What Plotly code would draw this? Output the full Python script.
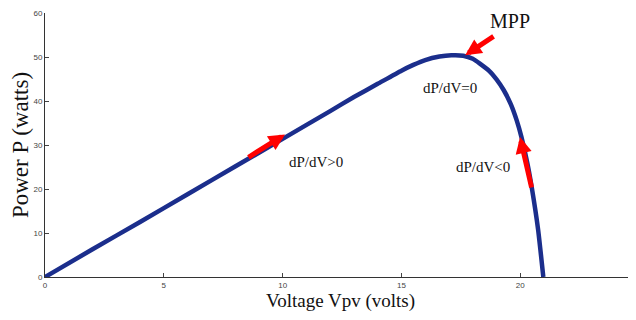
import plotly.graph_objects as go

voltage = [0, 2, 4, 6, 8, 10, 12, 13, 14, 15, 15.5, 16, 16.6, 17.1, 17.6, 18,
           18.3, 18.7, 19, 19.3, 19.6, 19.85, 20.05, 20.3, 20.5, 20.75, 20.97]
power = [0, 6.3, 12.5, 18.8, 25.1, 31.4, 37.7, 40.9, 43.9, 46.9, 48.2, 49.3,
         50.1, 50.4, 50.3, 49.6, 48.5, 46.8, 44.9, 42.5, 39.3, 35.6, 31.8,
         25.8, 19.8, 10.8, 0]

x_ticks = [0, 5, 10, 15, 20, 25]
y_ticks = [0, 10, 20, 30, 40, 50, 60]

# arrows: (tail_x, tail_y, tip_x, tip_y)
arrows = [
    (8.5, 27.0, 10.1, 32.4),
    (18.94, 54.9, 17.68, 50.4),
    (20.49, 20.0, 19.99, 31.8),
]

labels = [
    ("MPP", 19.55, 58.2, 20),
    ("dP/dV=0", 17.03, 43.0, 15),
    ("dP/dV>0", 11.4, 26.2, 15),
    ("dP/dV<0", 18.45, 25.0, 15),
]

fig = go.Figure()
fig.add_trace(go.Scatter(x=voltage, y=power, mode="lines",
                         line=dict(color="#1b2e8c", width=4.5, shape="spline", smoothing=0.5),
                         hoverinfo="skip", showlegend=False))

for tx, ty, hx, hy in arrows:
    fig.add_annotation(x=hx, y=hy, ax=tx, ay=ty, xref="x", yref="y", axref="x", ayref="y",
                       text="", showarrow=True, arrowhead=2, arrowsize=0.65, arrowwidth=5,
                       arrowcolor="#ff0000", standoff=0)

for t, x, y, s in labels:
    fig.add_annotation(x=x, y=y, xref="x", yref="y", text=t, showarrow=False,
                       font=dict(family="Liberation Serif", size=s, color="#111"))

# page body has an 8px default margin; figure is sized to fill the rest of the window
fig.update_layout(
    width=628, height=312,
    margin=dict(l=36.5, r=0, t=4.7, b=43.3, autoexpand=False),
    paper_bgcolor="white", plot_bgcolor="white",
    xaxis=dict(range=[0, 24.87], tickvals=x_ticks, ticks="inside", ticklen=4,
               showline=True, linecolor="#333", linewidth=1, showgrid=False, zeroline=False,
               automargin=False,
               tickfont=dict(family="Liberation Sans", size=8, color="#444"),
               title=dict(text="Voltage Vpv (volts)", standoff=5,
                          font=dict(family="Liberation Serif", size=19, color="#111"))),
    yaxis=dict(range=[0, 60], tickvals=y_ticks, ticks="inside", ticklen=4,
               showline=True, linecolor="#333", linewidth=1, showgrid=False, zeroline=False,
               automargin=False,
               tickfont=dict(family="Liberation Sans", size=8, color="#444"),
               title=dict(text="Power P (watts)", standoff=4,
                          font=dict(family="Liberation Serif", size=23, color="#111"))),
)

fig.write_html("out.html")
